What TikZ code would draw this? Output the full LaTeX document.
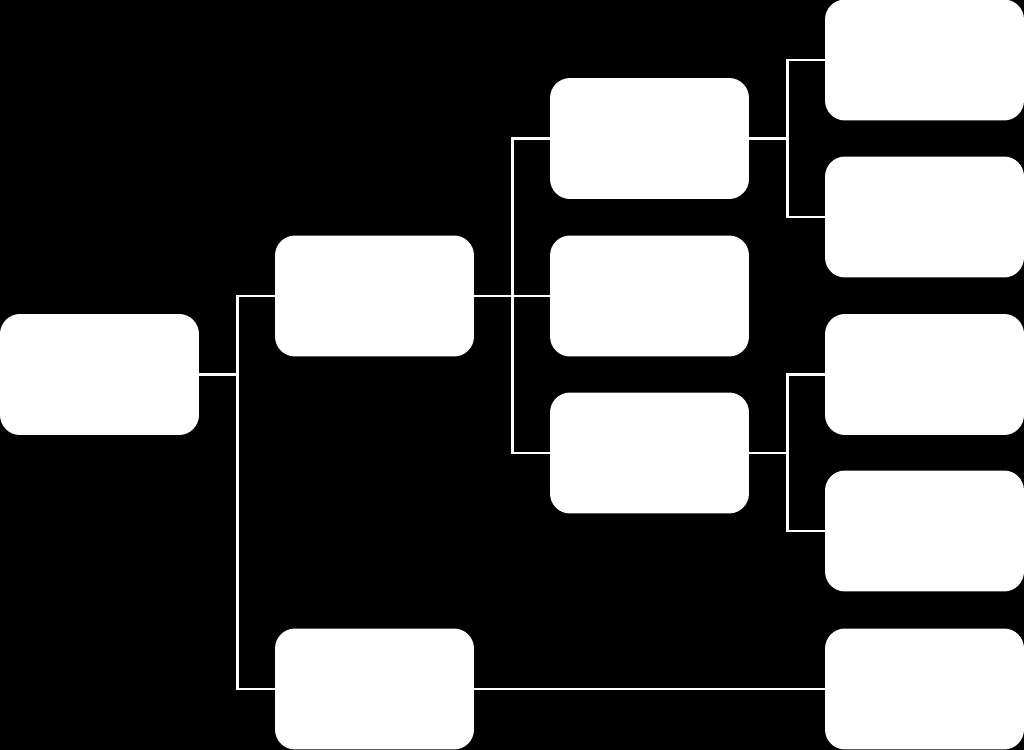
\documentclass[tikz,border=0pt]{standalone}
\usepackage{tikz}
\usetikzlibrary{positioning}

\begin{document}
\begin{tikzpicture}[x=0.02cm,y=-0.02cm,
box/.style={fill=white,rounded corners=0.4cm,minimum width=3.98cm,minimum height=2.42cm,inner sep=0pt},
link/.style={white,line width=1.4pt}]
\fill[black](0,0)rectangle(1024,750);
\useasboundingbox(0,0)rectangle(1024,750);
% boxes
\node[box](root) at (99.5,374.5){};
\node[box](up) at (374.5,296){};
\node[box](down) at (374.5,689){};
\node[box](upa) at (649.5,138.5){};
\node[box](upb) at (649.5,296){};
\node[box](upc) at (649.5,453){};
\node[box](leafa) at (924.5,60){};
\node[box](leafb) at (924.5,217){};
\node[box](leafc) at (924.5,374.5){};
\node[box](leafd) at (924.5,531){};
\node[box](leafe) at (924.5,689){};
% links
\draw[link](root.east)--++(38,0)|-(up.west);
\draw[link](root.east)++(38,0)|-(down.west);
\draw[link](up.west-|up.east)--++(38,0)|-(upa.west);
\draw[link](up.east)--(upb.west);
\draw[link](up.east)++(38,0)|-(upc.west);
\draw[link](upa.east)--++(38,0)|-(leafa.west);
\draw[link](upa.east)++(38,0)|-(leafb.west);
\draw[link](upc.east)--++(38,0)|-(leafc.west);
\draw[link](upc.east)++(38,0)|-(leafd.west);
\draw[link](down.east)--(leafe.west);
\end{tikzpicture}
\end{document}
